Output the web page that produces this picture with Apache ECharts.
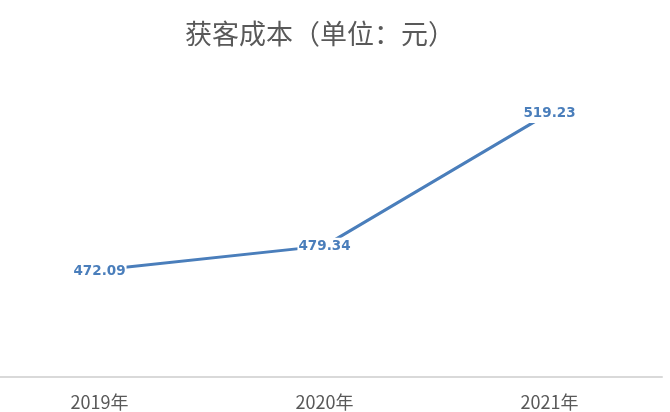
<!DOCTYPE html>
<html><head><meta charset="utf-8">
<script src="https://cdn.jsdelivr.net/npm/echarts@6/dist/echarts.min.js"></script>
<style>html,body{margin:0;padding:0;background:#fff}#c{width:670px;height:412px}</style>
</head><body><div id="c"></div>
<script>
const categories = ['2019年', '2020年', '2021年'];
const costValues = [472.09, 479.34, 519.23];
const titleText = '获客成本（单位：元）';

const chart = echarts.init(document.getElementById('c'), null, {renderer: 'canvas'});
chart.setOption({
  animation: false,
  backgroundColor: '#fff',
  title: {
    text: titleText, left: 180, top: 15,
    textStyle: {fontFamily: '"Noto Sans CJK SC"', fontSize: 27, fontWeight: 'normal', color: '#595959'}
  },
  grid: {left: -13, right: 8, top: 77, bottom: 35, outerBoundsMode: 'none', containLabel: false},
  xAxis: {
    type: 'category', data: categories, boundaryGap: true,
    axisLine: {lineStyle: {color: '#d9d9d9', width: 2}},
    axisTick: {show: false},
    axisLabel: {fontFamily: '"Liberation Sans Narrow", "Noto Sans CJK SC"', fontSize: 18, color: '#595959', margin: 16}
  },
  yAxis: {type: 'value', min: 440, max: 530, interval: 10, show: false, splitLine: {show: false}},
  series: [{
    type: 'line', data: costValues, symbol: 'circle', symbolSize: 1, showSymbol: true,
    lineStyle: {color: '#4a7ebb', width: 3},
    itemStyle: {color: '#4a7ebb'},
    label: {
      show: true, position: 'inside', color: '#4a7ebb', fontFamily: 'DejaVu Sans', fontWeight: 'bold', fontSize: 13.5,
      backgroundColor: '#fff', padding: [2, 1], offset: [0, 1]
    },
    z: 3
  }]
});
</script></body></html>
